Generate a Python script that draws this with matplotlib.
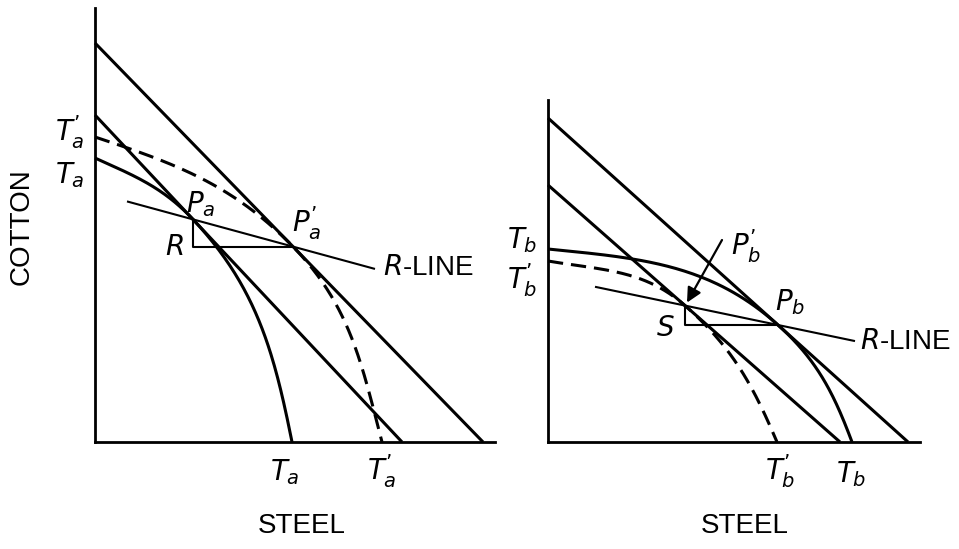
import numpy as np
import matplotlib
matplotlib.use("Agg")
import matplotlib.pyplot as plt

plt.rcParams['font.family'] = ['Liberation Sans Narrow', 'Liberation Sans', 'DejaVu Sans']
plt.rcParams['mathtext.fontset'] = 'custom'
plt.rcParams['mathtext.it'] = 'Liberation Sans Narrow:italic'
plt.rcParams['mathtext.rm'] = 'Liberation Sans Narrow'
plt.rcParams['mathtext.sf'] = 'Liberation Sans Narrow'

# ---------------- data (schematic units) ----------------
# price lines: (y-intercept, x-intercept)
a_outer = (399, 388)
a_inner = (327, 307)
b_outer = (324, 360)
b_inner = (257, 292)

# tangency x positions
Pa_x = 98      # on a_inner
Pa2_x = 198    # on a_outer
Pb_x = 230     # on b_outer
S_x = 137      # on b_inner

# production possibility curves: start_y, start_slope, end_x, end_slope
Ta_curve = (284, -0.45, 197, -5.0)
Ta2_curve = (305, -0.33, 287, -3.85)
Tb_curve = (193, -0.10, 304, -2.67)
Tb2_curve = (181, -0.17, 229, -2.35)

# R-line x extents
a_rline = (32, 280)
b_rline = (47, 307)


def line_y(line, x):
    yi, xi = line
    return yi * (1 - np.asarray(x) / xi)


def bez(p0, p1, p2, p3, n=80):
    t = np.linspace(0, 1, n)[:, None]
    p0, p1, p2, p3 = map(np.asarray, (p0, p1, p2, p3))
    return ((1 - t) ** 3) * p0 + 3 * ((1 - t) ** 2) * t * p1 + 3 * (1 - t) * t ** 2 * p2 + t ** 3 * p3


def unit(s):
    v = np.array([1.0, s])
    return v / np.hypot(*v)


def ppf(curve, tx, line, k=0.38):
    sy, s0, ex, se = curve
    ty = float(line_y(line, tx))
    st = -line[0] / line[1]
    P0 = np.array([0.0, sy]); T = np.array([tx, ty]); E = np.array([ex, 0.0])
    L1 = np.hypot(*(T - P0)); L2 = np.hypot(*(E - T))
    seg1 = bez(P0, P0 + k * L1 * unit(s0), T - k * L1 * unit(st), T)
    seg2 = bez(T, T + k * L2 * unit(st), E - k * L2 * unit(se), E)
    pts = np.vstack([seg1, seg2[1:]])
    return pts[:, 0], pts[:, 1]


fig = plt.figure(figsize=(9.59, 5.49), dpi=100)
W, H = 959, 549
axA = fig.add_axes([95 / W, 107 / H, 400 / W, 434 / H])
axB = fig.add_axes([548 / W, 107 / H, 372 / W, 342 / H])
axA.set_xlim(0, 400); axA.set_ylim(0, 434)
axB.set_xlim(0, 372); axB.set_ylim(0, 342)
for ax in (axA, axB):
    for s in ('top', 'right'):
        ax.spines[s].set_visible(False)
    for s in ('left', 'bottom'):
        ax.spines[s].set_linewidth(2.0)
    ax.set_xticks([]); ax.set_yticks([])
    ax.patch.set_alpha(0)

LW = 2.2
DASH = (0, (5, 2.6))
kw = dict(color='black', solid_capstyle='butt', clip_on=False)

# ---- left panel ----
for ln in (a_outer, a_inner):
    xs = np.array([0, ln[1]])
    axA.plot(xs, line_y(ln, xs), lw=LW, **kw)
x, y = ppf(Ta_curve, Pa_x, a_inner)
axA.plot(x, y, lw=LW, **kw)
x, y = ppf(Ta2_curve, Pa2_x, a_outer)
axA.plot(x, y, lw=LW, ls=DASH, color='black', clip_on=False)
Pa = (Pa_x, float(line_y(a_inner, Pa_x)))
Pa2 = (Pa2_x, float(line_y(a_outer, Pa2_x)))
sl = (Pa2[1] - Pa[1]) / (Pa2[0] - Pa[0])
xr = np.array(a_rline)
axA.plot(xr, Pa[1] + sl * (xr - Pa[0]), lw=1.5, **kw)
axA.plot([Pa[0], Pa[0], Pa2[0]], [Pa[1], Pa2[1], Pa2[1]], lw=1.5, **kw)

# ---- right panel ----
for ln in (b_outer, b_inner):
    xs = np.array([0, ln[1]])
    axB.plot(xs, line_y(ln, xs), lw=LW, **kw)
x, y = ppf(Tb_curve, Pb_x, b_outer)
axB.plot(x, y, lw=LW, **kw)
x, y = ppf(Tb2_curve, S_x, b_inner)
axB.plot(x, y, lw=LW, ls=DASH, color='black', clip_on=False)
Pb = (Pb_x, float(line_y(b_outer, Pb_x)))
S = (S_x, float(line_y(b_inner, S_x)))
sl = (Pb[1] - S[1]) / (Pb[0] - S[0])
xr = np.array(b_rline)
axB.plot(xr, S[1] + sl * (xr - S[0]), lw=1.5, **kw)
axB.plot([S[0], S[0], Pb[0]], [S[1], Pb[1], Pb[1]], lw=1.5, **kw)
axB.annotate('', xy=(S[0] + 2, S[1] + 3), xytext=(174, 202),
             arrowprops=dict(arrowstyle='-|>', color='black', lw=1.6,
                             mutation_scale=22, shrinkA=0, shrinkB=0),
             annotation_clip=False)

# ---- labels ----
FS = 20
tk = dict(fontsize=FS, ha='center', va='center', clip_on=False)


def label(ax, x, y, base, sub=None, prime=False):
    if sub and prime:
        s = f"${base}^{{’}}_{{{sub}}}$"
    elif sub:
        s = f"${base}_{{{sub}}}$"
    else:
        s = f"${base}$"
    ax.text(x, y, s, **tk)


label(axA, -25, 310, 'T', 'a', prime=True)
label(axA, -25, 267, 'T', 'a')
label(axA, 106, 238, 'P', 'a')
label(axA, 79, 194, 'R')
label(axA, 212, 219, 'P', 'a', prime=True)
axA.text(288, 174, r"$R$-LINE", fontsize=FS, ha='left', va='center')
label(axA, 190, -30, 'T', 'a')
label(axA, 287, -29, 'T', 'a', prime=True)
axA.text(207, -84, "STEEL", **tk)
axA.text(-73, 215, "COTTON", rotation=90, **tk)

label(axB, -26, 202, 'T', 'b')
label(axB, -26, 162, 'T', 'b', prime=True)
label(axB, 198, 196, 'P', 'b', prime=True)
label(axB, 117, 113, 'S')
label(axB, 242, 140, 'P', 'b')
axB.text(312, 100, r"$R$-LINE", fontsize=FS, ha='left', va='center')
label(axB, 232, -29, 'T', 'b', prime=True)
label(axB, 303, -32, 'T', 'b')
axB.text(197, -84, "STEEL", **tk)

fig.savefig("out.png", dpi=100)
